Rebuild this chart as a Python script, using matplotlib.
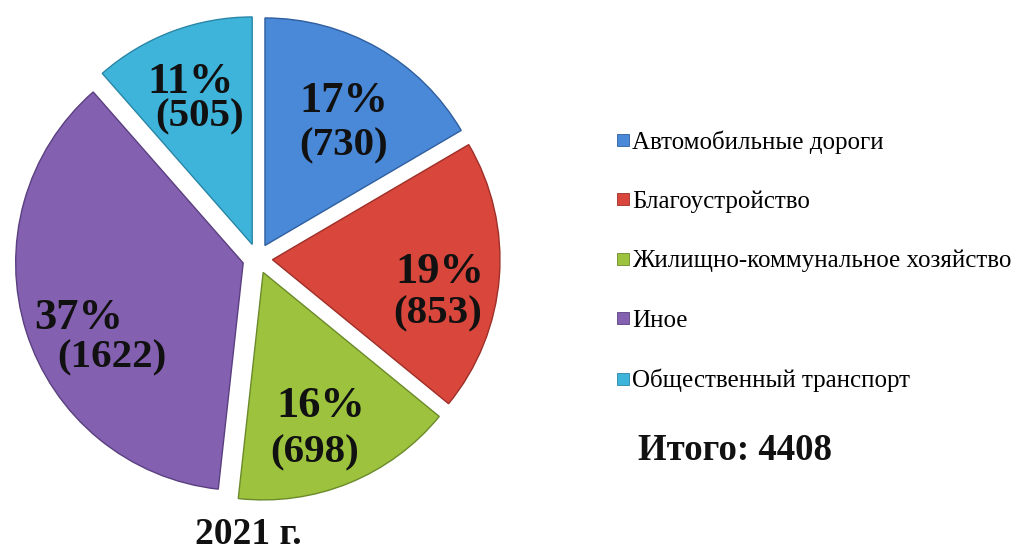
import numpy as np
import matplotlib.pyplot as plt
from matplotlib.lines import Line2D

# data
categories = ["Автомобильные дороги", "Благоустройство",
              "Жилищно-коммунальное хозяйство", "Иное",
              "Общественный транспорт"]
values = [730, 853, 698, 1622, 505]
year_label = "2021 г."
total_label = "Итого: 4408"

colors = ["#4a88d8", "#d8463c", "#9cc23e", "#8460b0", "#3eb4da"]
edge_colors = ["#2f5f9e", "#9e2f28", "#6b8a2a", "#5a4080", "#2a86a6"]

# label placement per slice (fraction of radius, angle shift in degrees,
# horizontal shift of the second line in radii, line pitch in px)
label_dist = [0.64, 0.747, 0.73, 0.728, 0.687]
label_rot = [-3, -7, -3, 9.5, 1]
line_shift = [0.0, -0.01, -0.03, 0.145, 0.04]
line_pitch = [45, 42, 47, 40, 35]

plt.rcParams['font.family'] = ['Liberation Serif', 'DejaVu Serif']

W, H = 1019, 553
R = 227.5            # pie radius in pixels
cx, cy = 257.5, 258.5  # pie centre in pixels from top-left
explode = 0.066

fig = plt.figure(figsize=(W / 100, H / 100), dpi=100)
ax = fig.add_axes([0, 0, 1, 1])

total = sum(values)

wedges, _ = ax.pie(
    values, colors=colors, startangle=90, counterclock=False,
    explode=[explode] * len(values), radius=1,
    wedgeprops=dict(linewidth=1.0))
for w, ec in zip(wedges, edge_colors):
    w.set_edgecolor(ec)

for i, w in enumerate(wedges):
    mid = np.deg2rad((w.theta1 + w.theta2) / 2)
    ex, ey = explode * np.cos(mid), explode * np.sin(mid)
    a = mid + np.deg2rad(label_rot[i])
    x = ex + label_dist[i] * np.cos(a)
    y = ey + label_dist[i] * np.sin(a)
    half = line_pitch[i] / 2 / R
    pct = values[i] / total * 100
    ax.text(x - line_shift[i] / 2, y + half, "{:.0f}%".format(pct),
            ha="center", va="center", fontsize=32, fontweight="bold",
            color="#111111")
    ax.text(x + line_shift[i] / 2, y - half, "({})".format(values[i]),
            ha="center", va="center", fontsize=29.5, fontweight="bold",
            color="#111111")

ax.set_xlim(-cx / R, (W - cx) / R)
ax.set_ylim(-(H - cy) / R, cy / R)
ax.set_aspect("auto")
ax.axis("off")

# legend on the right
handles = [Line2D([], [], marker="s", linestyle="none", markersize=8.6,
                  markerfacecolor=c, markeredgecolor=ec, markeredgewidth=0.6)
           for c, ec in zip(colors, edge_colors)]
fig.legend(handles, categories, loc="upper left",
           bbox_to_anchor=(615 / W, 1 - 130 / H), frameon=False,
           fontsize=18, labelspacing=1.48, handlelength=0.6,
           handletextpad=0.08, borderaxespad=0, borderpad=0)

fig.text(735 / W, 1 - 451 / H, total_label, ha="center", va="center",
         fontsize=26.5, fontweight="bold", color="#111111")
fig.text(248 / W, 1 - 534 / H, year_label, ha="center", va="center",
         fontsize=27, fontweight="bold", color="#111111")

plt.savefig("out.png", dpi=100)
